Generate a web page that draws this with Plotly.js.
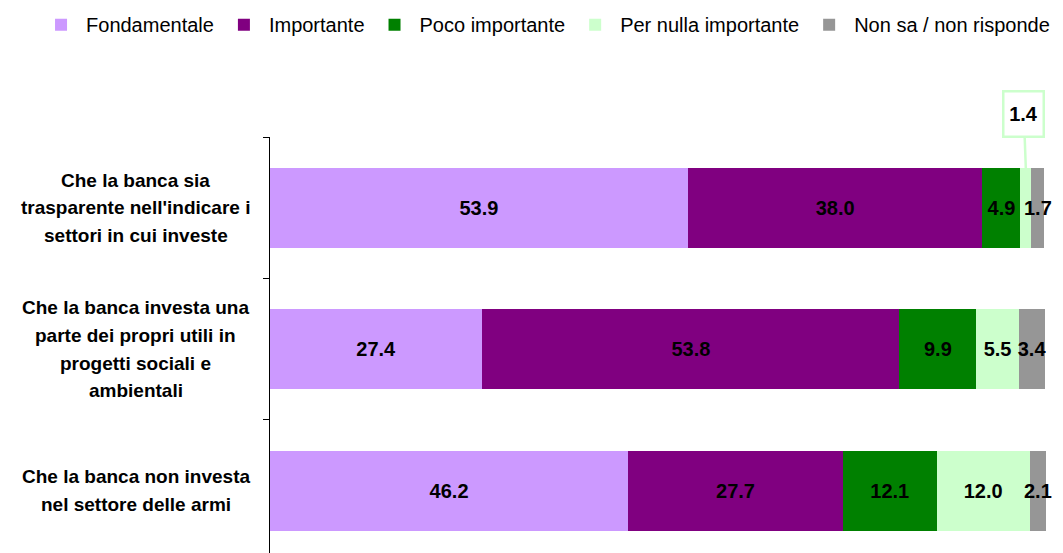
<!DOCTYPE html>
<html>
<head>
<meta charset="utf-8">
<script src="https://cdn.plot.ly/plotly-3.0.1.min.js"></script>
<style>
html, body { margin: 0; padding: 0; overflow: hidden; background: #fff; }
#chart { width: 1063px; height: 553px; }
</style>
</head>
<body>
<div id="chart"></div>
<script>
// ---- Data ----
const categories = ["cat1", "cat2", "cat3"];
const categoryLines = [
  ["Che la banca sia", "trasparente nell'indicare i", "settori in cui investe"],
  ["Che la banca investa una", "parte dei propri utili in", "progetti sociali e", "ambientali"],
  ["Che la banca non investa", "nel settore delle armi"]
];
const seriesNames = ["Fondamentale", "Importante", "Poco importante", "Per nulla importante", "Non sa / non risponde"];
const fondamentale = [53.9, 27.4, 46.2];
const importante = [38.0, 53.8, 27.7];
const pocoImportante = [4.9, 9.9, 12.1];
const perNulla = [1.4, 5.5, 12.0];
const nonSa = [1.7, 3.4, 2.1];
// index of the value shown in a callout box instead of inside the bar
const calloutIndex = 0;

const colors = ["#cc99ff", "#800080", "#008000", "#ccffcc", "#969696"];
const FONT = "'Liberation Sans', Arial, sans-serif";

const allSeries = [fondamentale, importante, pocoImportante, perNulla, nonSa];

const traces = allSeries.map((vals, s) => ({
  type: "bar",
  orientation: "h",
  name: seriesNames[s],
  y: categories,
  x: vals,
  marker: { color: colors[s], line: { width: 0 } },
  text: vals.map((v, i) => (s === 3 && i === calloutIndex) ? "" : v.toFixed(1)),
  textposition: "inside",
  insidetextanchor: "middle",
  constraintext: "none",
  textangle: 0,
  cliponaxis: false,
  textfont: { family: FONT, size: 20, color: "#000", weight: "bold" },
  hoverinfo: "skip"
}));

const annotations = [];
const lineStep = 27.6;
categoryLines.forEach((lines, i) => {
  const n = lines.length;
  lines.forEach((ln, j) => {
    annotations.push({
      xref: "paper", yref: "y",
      x: -0.1727, y: i,
      xanchor: "center", yanchor: "middle",
      text: "<b>" + ln + "</b>",
      showarrow: false,
      yshift: -(j - (n - 1) / 2) * lineStep,
      font: { family: FONT, size: 19, color: "#000" }
    });
  });
});

// callout for the small "Per nulla importante" segment
const calloutX = fondamentale[calloutIndex] + importante[calloutIndex] + pocoImportante[calloutIndex] + perNulla[calloutIndex] / 2;
annotations.push({
  xref: "x", yref: "y",
  x: calloutX, y: calloutIndex - 0.274,
  text: "<b>" + perNulla[calloutIndex].toFixed(1) + "</b>",
  showarrow: true, arrowhead: 0, arrowwidth: 2.5, arrowcolor: "#ccffcc",
  ax: -2, ay: -55,
  width: 38, height: 43,
  bordercolor: "#ccffcc", borderwidth: 2.5, borderpad: 0,
  bgcolor: "#fff",
  font: { family: FONT, size: 20, color: "#000" }
});

const layout = {
  width: 1063, height: 553,
  margin: { l: 270, r: 17, t: 137, b: 0, pad: 0 },
  barmode: "stack",
  bargap: 0.435,
  paper_bgcolor: "#fff",
  plot_bgcolor: "#fff",
  font: { family: FONT, color: "#000" },
  showlegend: true,
  legend: {
    orientation: "h",
    xref: "paper", yref: "paper",
    x: -0.3015, y: 1.317, xanchor: "left", yanchor: "top",
    itemwidth: 40,
    traceorder: "normal",
    font: { family: FONT, size: 20, color: "#000" },
    itemclick: false, itemdoubleclick: false
  },
  xaxis: {
    range: [0, 100.1],
    showgrid: false, zeroline: false, showline: false,
    showticklabels: false, ticks: ""
  },
  yaxis: {
    type: "category",
    range: [2.44, -0.5],
    showgrid: false, zeroline: false,
    showline: true, linecolor: "#000", linewidth: 1,
    ticks: "outside", ticklen: 6, tickcolor: "#000", tickwidth: 1,
    tickson: "boundaries",
    showticklabels: false
  },
  annotations: annotations
};

Plotly.newPlot("chart", traces, layout, { displayModeBar: false, staticPlot: true });
</script>
</body>
</html>
